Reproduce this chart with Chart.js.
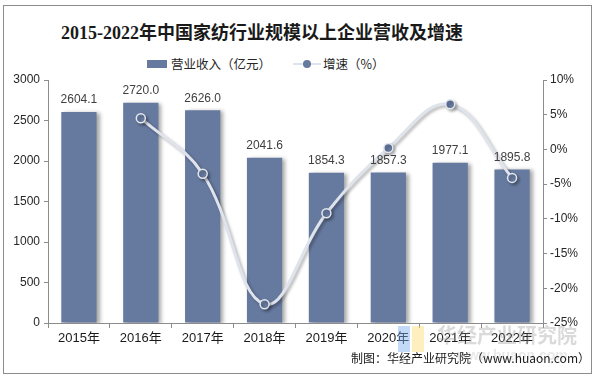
<!DOCTYPE html>
<html><head><meta charset="utf-8">
<script src="https://cdn.jsdelivr.net/npm/chart.js@4/dist/chart.umd.min.js"></script>
<style>
html,body{margin:0;padding:0;background:#fff;}
#wrap{position:relative;width:597px;height:379px;overflow:hidden;font-family:"Liberation Sans","Noto Sans CJK SC",sans-serif;}
#frame{position:absolute;left:3px;top:5px;width:589px;height:369px;border:1px solid #8c8c8c;box-sizing:border-box;}
#title{position:absolute;left:0;width:524px;top:18px;text-align:center;font-family:"Liberation Serif","Noto Sans CJK SC",serif;font-weight:bold;font-size:18px;color:#1a1a1a;white-space:nowrap;}
#legend{position:absolute;left:147px;top:54px;font-size:12.5px;color:#262626;white-space:nowrap;display:flex;align-items:center;font-family:"Noto Sans CJK SC",sans-serif;}
.lbox{display:inline-block;width:20px;height:8px;background:#66799f;margin-right:4px;}
.lline{display:inline-block;position:relative;width:28px;height:8px;margin-left:22px;margin-right:2px;}
.lline:before{content:"";position:absolute;left:0;right:0;top:3px;height:2px;background:#dfe3ec;}
.lline:after{content:"";position:absolute;left:10px;top:0;width:8px;height:8px;border-radius:50%;background:#66799f;}
#source{position:absolute;right:7px;top:349px;font-size:12px;color:#1a1a1a;white-space:nowrap;font-family:"Noto Sans CJK SC",sans-serif;}
#wm{position:absolute;left:437px;top:320px;font-size:20px;font-weight:bold;color:rgba(150,150,150,0.35);white-space:nowrap;font-family:"Noto Sans CJK SC",sans-serif;}
#wm2{position:absolute;left:457px;top:347px;font-size:14px;font-weight:bold;color:rgba(150,150,150,0.22);white-space:nowrap;}
#logo1{position:absolute;left:398px;top:326px;width:12px;height:26px;background:rgba(120,170,240,0.45);}
#logo2{position:absolute;left:412px;top:326px;width:12px;height:26px;background:rgba(250,220,110,0.45);}
canvas{position:absolute;left:0;top:0;}
</style></head>
<body><div id="wrap">
<div id="frame"></div>
<div id="title">2015-2022年中国家纺行业规模以上企业营收及增速</div>
<div id="legend"><span class="lbox"></span>营业收入（亿元）<span class="lline"></span>增速（%）</div>
<canvas id="c" width="597" height="379"></canvas>
<div id="logo1"></div><div id="logo2"></div>
<div id="wm">华经产业研究院</div>
<div id="wm2">www.huaon.com</div>
<div id="source">制图：华经产业研究院（www.huaon.com）</div>
</div>
<script>
const categories = ["2015年","2016年","2017年","2018年","2019年","2020年","2021年","2022年"];
const revenue = [2604.1, 2720.0, 2626.0, 2041.6, 1854.3, 1857.3, 1977.1, 1895.8];
const growth = [null, 4.5, -3.5, -22.3, -9.2, 0.2, 6.5, -4.1];
const leftTicks = [0, 500, 1000, 1500, 2000, 2500, 3000];
const rightTicks = [-25, -20, -15, -10, -5, 0, 5, 10];

const shadowPlugin = {
  id: 'shadow',
  beforeDatasetDraw(chart, args) {
    const ctx = chart.ctx;
    ctx.save();
    if (args.index === 1) {
      ctx.shadowColor = 'rgba(0,0,0,0.35)';
      ctx.shadowBlur = 4;
      ctx.shadowOffsetX = 3;
      ctx.shadowOffsetY = 1;
    } else {
      ctx.shadowColor = 'rgba(0,0,0,0.3)';
      ctx.shadowBlur = 3;
      ctx.shadowOffsetX = 2;
      ctx.shadowOffsetY = 2;
    }
  },
  afterDatasetDraw(chart) { chart.ctx.restore(); }
};
const labelPlugin = {
  id: 'barLabels',
  afterDatasetsDraw(chart) {
    const ctx = chart.ctx;
    const meta = chart.getDatasetMeta(1);
    ctx.save();
    ctx.font = '12px "Liberation Sans", Arial, sans-serif';
    ctx.fillStyle = '#404040';
    ctx.textAlign = 'center';
    ctx.textBaseline = 'bottom';
    meta.data.forEach((bar, i) => {
      ctx.fillText(revenue[i].toFixed(1), bar.x, bar.y - 6);
    });
    ctx.restore();
  }
};

new Chart(document.getElementById('c'), {
  data: {
    labels: categories,
    datasets: [
      {
        type: 'line', label: '增速（%）', data: growth, yAxisID: 'y1',
        borderColor: '#dfe3ec', borderWidth: 3, tension: 0.4,
        pointRadius: 4.5, pointBackgroundColor: '#66799f', pointBorderColor: '#e4e8f0', pointBorderWidth: 1.5,
        spanGaps: false, order: 0
      },
      {
        type: 'bar', label: '营业收入（亿元）', data: revenue, yAxisID: 'y',
        backgroundColor: '#66799f', barPercentage: 0.57, categoryPercentage: 1.0, order: 1
      }
    ]
  },
  options: {
    responsive: false, animation: false,
    layout: { padding: { top: 80, left: 0, right: 0, bottom: 0 } },
    plugins: { legend: { display: false }, tooltip: { enabled: false }, title: { display: false } },
    scales: {
      x: {
        offset: true,
        grid: { display: true, offset: true, drawOnChartArea: false, drawTicks: true, tickLength: 5, color: '#8c8c8c' },
        border: { display: true, color: '#8c8c8c' },
        ticks: { color: '#1a1a1a', font: { size: 13, family: '"Liberation Sans","Noto Sans CJK SC",sans-serif' }, padding: 3, maxRotation: 0 },
        afterFit(s) { s.height = 56; }
      },
      y: {
        position: 'left', min: 0, max: 3000,
        afterBuildTicks(s) { s.ticks = leftTicks.map(v => ({ value: v })); },
        grid: { display: true, drawOnChartArea: false, drawTicks: true, tickLength: 4, color: '#8c8c8c' },
        border: { display: true, color: '#8c8c8c' },
        ticks: { color: '#262626', font: { size: 12, family: '"Liberation Sans",Arial,sans-serif' }, padding: 4, callback: v => String(v) },
        afterFit(s) { s.width = 48; }
      },
      y1: {
        position: 'right', min: -25, max: 10,
        afterBuildTicks(s) { s.ticks = rightTicks.map(v => ({ value: v })); },
        grid: { display: true, drawOnChartArea: false, drawTicks: true, tickLength: 4, color: '#8c8c8c' },
        border: { display: true, color: '#8c8c8c' },
        ticks: { color: '#262626', font: { size: 12, family: '"Liberation Sans",Arial,sans-serif' }, padding: 3, callback: v => v + '%' },
        afterFit(s) { s.width = 54; }
      }
    }
  },
  plugins: [shadowPlugin, labelPlugin]
});
</script>
</body></html>
